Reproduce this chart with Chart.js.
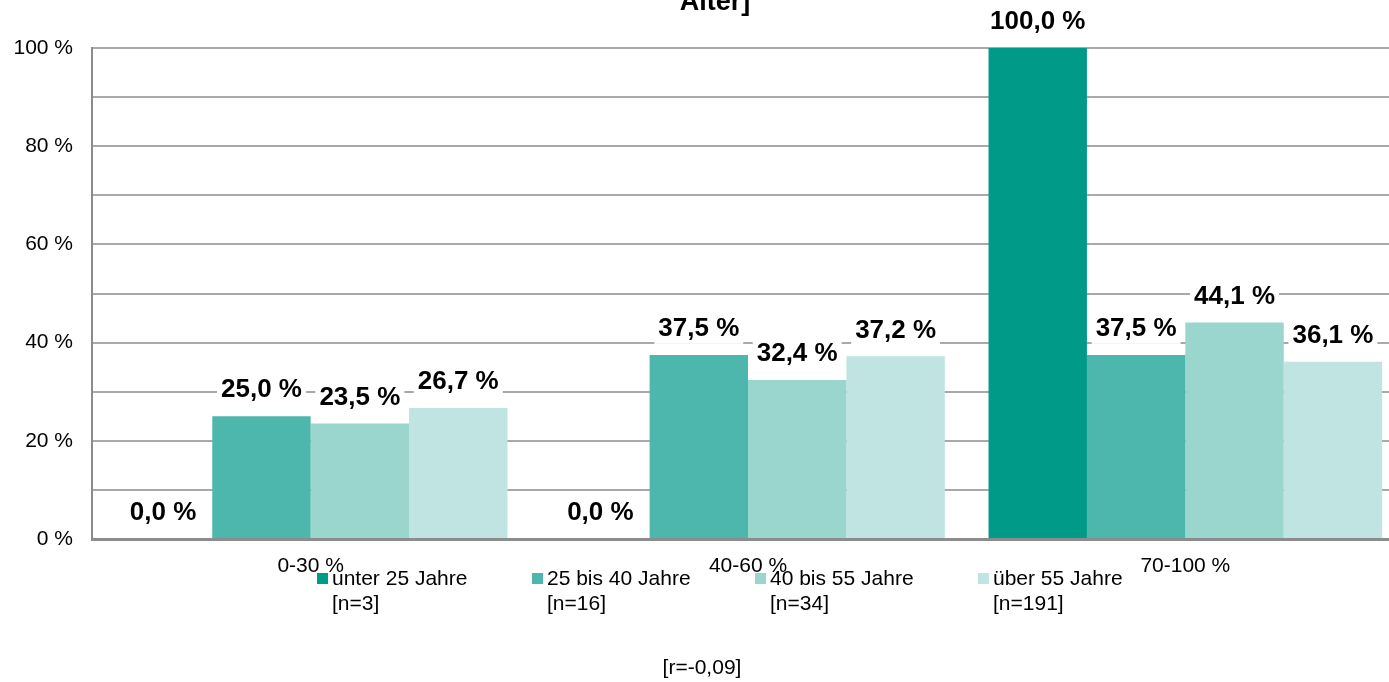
<!DOCTYPE html>
<html lang="de">
<head>
    <meta charset="UTF-8">
    <title>Altersgruppen</title>
    <script src="https://cdn.jsdelivr.net/npm/chart.js"></script>
    <style>
        body { margin: 0; overflow: hidden; background: #fff; }
    </style>
</head>
<body>
    <canvas id="barChart" width="1410" height="682"></canvas>

    <script>
        // Daten
        var kategorien = ['0-30 %', '40-60 %', '70-100 %'];
        var gruppenNamen = [['unter 25 Jahre', '[n=3]'], ['25 bis 40 Jahre', '[n=16]'], ['40 bis 55 Jahre', '[n=34]'], ['über 55 Jahre', '[n=191]']];
        var unter25 = [0.0, 0.0, 100.0];
        var von25bis40 = [25.0, 37.5, 37.5];
        var von40bis55 = [23.5, 32.4, 44.1];
        var ueber55 = [26.7, 37.2, 36.1];
        var farben = ['#009a89', '#4db7ae', '#9ad6ce', '#bfe4e1'];
        var titelRest = 'Alter]';
        var fussnote = '[r=-0,09]';

        var schrift = '"Liberation Sans", Arial, sans-serif';

        function fmt(v) {
            return v.toFixed(1).replace('.', ',') + ' %';
        }

        // Werte, Titel, Legende und Fußnote zeichnen
        var extras = {
            id: 'extras',
            afterDatasetsDraw: function (chart) {
                var ctx = chart.ctx;
                ctx.save();
                ctx.font = 'bold 26px ' + schrift;
                ctx.textAlign = 'center';
                ctx.textBaseline = 'middle';
                chart.data.datasets.forEach(function (ds, i) {
                    chart.getDatasetMeta(i).data.forEach(function (bar, j) {
                        var txt = fmt(ds.data[j]);
                        var w = ctx.measureText(txt).width + 8;
                        var y = bar.y - 27;
                        ctx.fillStyle = '#fff';
                        ctx.fillRect(bar.x - w / 2, y - 16, w, 32);
                        ctx.fillStyle = '#000';
                        ctx.fillText(txt, bar.x, y + 1);
                    });
                });

                // Titel (oben abgeschnitten)
                ctx.font = 'bold 27px ' + schrift;
                ctx.textBaseline = 'bottom';
                ctx.fillText(titelRest, 715, 16);

                // Fußnote
                ctx.font = '21px ' + schrift;
                ctx.textBaseline = 'middle';
                ctx.fillText(fussnote, 702, 668);

                // Legende
                var legX = [317, 532, 755, 978];
                ctx.textAlign = 'left';
                chart.data.datasets.forEach(function (ds, i) {
                    ctx.fillStyle = ds.backgroundColor;
                    ctx.fillRect(legX[i], 573, 11, 11);
                    ctx.fillStyle = '#000';
                    ds.label.forEach(function (zeile, k) {
                        ctx.fillText(zeile, legX[i] + 15, 579 + k * 25);
                    });
                });
                ctx.restore();
            }
        };

        var reihen = [unter25, von25bis40, von40bis55, ueber55];

        var data = {
            labels: kategorien,
            datasets: reihen.map(function (werte, i) {
                return {
                    label: gruppenNamen[i],
                    data: werte,
                    backgroundColor: farben[i],
                    borderWidth: 0,
                    barPercentage: 1.0,
                    categoryPercentage: 0.9
                };
            })
        };

        var config = {
            type: 'bar',
            data: data,
            options: {
                responsive: false,
                animation: false,
                devicePixelRatio: 1,
                layout: {
                    padding: { top: 48, right: 6, bottom: 103, left: 0 }
                },
                plugins: {
                    legend: { display: false },
                    title: { display: false },
                    tooltip: { enabled: false }
                },
                scales: {
                    x: {
                        grid: { display: false, drawTicks: false },
                        border: { color: '#8c8c8c', width: 3 },
                        ticks: {
                            color: '#000',
                            padding: 15,
                            font: { family: schrift, size: 21 }
                        },
                        afterFit: function (scale) { scale.height = 40; }
                    },
                    y: {
                        min: 0,
                        max: 100,
                        grid: { color: '#a9a9a9', lineWidth: 2, drawTicks: false },
                        border: { color: '#8c8c8c', width: 2 },
                        ticks: {
                            stepSize: 10,
                            color: '#000',
                            padding: 19,
                            font: { family: schrift, size: 21 },
                            callback: function (v) { return v % 20 === 0 ? v + ' %' : ''; }
                        },
                        afterFit: function (scale) { scale.width = 92; }
                    }
                }
            },
            plugins: [extras]
        };

        var myChart = new Chart(document.getElementById('barChart'), config);
    </script>
</body>
</html>
